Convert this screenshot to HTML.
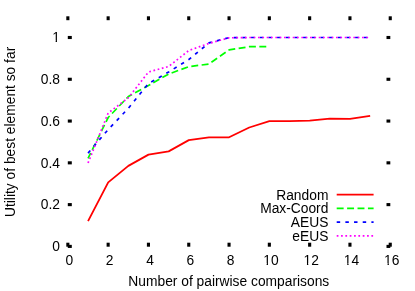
<!DOCTYPE html>
<html><head><meta charset="utf-8"><style>
html,body{margin:0;padding:0;background:#fff;}
svg{display:block;will-change:transform}
text{font-family:"Liberation Sans",sans-serif;font-size:13.8px;fill:#000}
</style></head><body>
<svg width="415" height="291" viewBox="0 0 415 291">
<rect width="415" height="291" fill="#fff"/>
<g fill="#000">
<rect x="66.30" y="16.3" width="3.1" height="3.9"/>
<rect x="66.30" y="242.7" width="3.1" height="4.0"/>
<rect x="106.60" y="16.3" width="3.1" height="3.9"/>
<rect x="106.60" y="242.7" width="3.1" height="4.0"/>
<rect x="146.90" y="16.3" width="3.1" height="3.9"/>
<rect x="146.90" y="242.7" width="3.1" height="4.0"/>
<rect x="187.20" y="16.3" width="3.1" height="3.9"/>
<rect x="187.20" y="242.7" width="3.1" height="4.0"/>
<rect x="227.50" y="16.3" width="3.1" height="3.9"/>
<rect x="227.50" y="242.7" width="3.1" height="4.0"/>
<rect x="267.80" y="16.3" width="3.1" height="3.9"/>
<rect x="267.80" y="242.7" width="3.1" height="4.0"/>
<rect x="308.10" y="16.3" width="3.1" height="3.9"/>
<rect x="308.10" y="242.7" width="3.1" height="4.0"/>
<rect x="348.40" y="16.3" width="3.1" height="3.9"/>
<rect x="348.40" y="242.7" width="3.1" height="4.0"/>
<rect x="388.70" y="16.3" width="3.1" height="3.9"/>
<rect x="388.70" y="242.7" width="3.1" height="4.0"/>
<rect x="67.8" y="244.85" width="4.0" height="3.1"/>
<rect x="386.5" y="244.85" width="3.8" height="3.1"/>
<rect x="67.8" y="203.07" width="4.0" height="3.1"/>
<rect x="386.5" y="203.07" width="3.8" height="3.1"/>
<rect x="67.8" y="161.29" width="4.0" height="3.1"/>
<rect x="386.5" y="161.29" width="3.8" height="3.1"/>
<rect x="67.8" y="119.51" width="4.0" height="3.1"/>
<rect x="386.5" y="119.51" width="3.8" height="3.1"/>
<rect x="67.8" y="77.73" width="4.0" height="3.1"/>
<rect x="386.5" y="77.73" width="3.8" height="3.1"/>
<rect x="67.8" y="35.95" width="4.0" height="3.1"/>
<rect x="386.5" y="35.95" width="3.8" height="3.1"/>
</g>
<text x="69.40" y="264.8" text-anchor="middle">0</text>
<text x="109.70" y="264.8" text-anchor="middle">2</text>
<text x="150.00" y="264.8" text-anchor="middle">4</text>
<text x="190.30" y="264.8" text-anchor="middle">6</text>
<text x="230.60" y="264.8" text-anchor="middle">8</text>
<text x="270.90" y="264.8" text-anchor="middle">10</text>
<text x="311.20" y="264.8" text-anchor="middle">12</text>
<text x="351.50" y="264.8" text-anchor="middle">14</text>
<text x="391.80" y="264.8" text-anchor="middle">16</text>
<text x="59.9" y="251.10" text-anchor="end">0</text>
<text x="59.9" y="209.32" text-anchor="end">0.2</text>
<text x="59.9" y="167.54" text-anchor="end">0.4</text>
<text x="59.9" y="125.76" text-anchor="end">0.6</text>
<text x="59.9" y="83.98" text-anchor="end">0.8</text>
<text x="59.9" y="42.20" text-anchor="end">1</text>
<g fill="#fff">
<rect x="263.53" y="263.25" width="3.12" height="2.3"/>
<rect x="267.97" y="263.25" width="3.28" height="2.3"/>
<rect x="303.83" y="263.25" width="3.12" height="2.3"/>
<rect x="308.27" y="263.25" width="3.28" height="2.3"/>
<rect x="344.13" y="263.25" width="3.12" height="2.3"/>
<rect x="348.57" y="263.25" width="3.28" height="2.3"/>
<rect x="384.43" y="263.25" width="3.12" height="2.3"/>
<rect x="388.87" y="263.25" width="3.28" height="2.3"/>
<rect x="52.53" y="40.65" width="3.12" height="2.3"/>
<rect x="56.97" y="40.65" width="3.28" height="2.3"/>
</g>
<text x="228.8" y="286.2" text-anchor="middle">Number of pairwise comparisons</text>
<text transform="translate(15.0,131.9) rotate(-90)" text-anchor="middle">Utility of best element so far</text>
<text x="328.4" y="199.7" text-anchor="end">Random</text>
<text x="328.4" y="213.2" text-anchor="end">Max-Coord</text>
<text x="328.4" y="226.8" text-anchor="end">AEUS</text>
<text x="328.4" y="240.6" text-anchor="end">eEUS</text>
<g fill="none" stroke-width="1.7" stroke-linejoin="round">
<polyline stroke="#ff0000" stroke-width="1.8" points="88.05,221.10 108.20,182.40 128.35,165.90 148.50,154.60 168.65,151.40 188.80,140.10 208.95,137.30 229.10,137.30 249.25,127.50 269.40,121.20 289.55,121.10 309.70,120.60 329.85,118.60 350.00,118.80 370.15,115.80"/>
<polyline stroke="#00ff00" stroke-dashoffset="1" stroke-dasharray="6.94,3.47" points="88.05,158.30 108.20,117.50 128.35,96.50 148.50,85.50 168.65,74.00 188.80,66.70 208.95,64.00 229.10,49.90 249.25,46.70 269.40,46.60"/>
<polyline stroke="#0000ff" stroke-dasharray="3.47,5.2" points="88.05,153.10 108.20,129.50 128.35,108.30 148.50,83.50 168.65,72.00 188.80,59.50 208.95,42.90 229.10,37.60 249.25,37.50 269.40,37.50 289.55,37.50 309.70,37.50 329.85,37.50 350.00,37.50 370.15,37.50"/>
<polyline stroke="#ff00ff" stroke-dasharray="1.734,2.6" points="88.05,163.00 108.20,113.00 128.35,97.80 148.50,72.00 168.65,66.50 188.80,50.50 208.95,43.40 229.10,37.80 249.25,37.50 269.40,37.50 289.55,37.50 309.70,37.50 329.85,37.50 350.00,37.50 370.15,37.50"/>
<line stroke="#ff0000" x1="336.7" x2="373.6" y1="194.6" y2="194.6"/>
<line stroke="#00ff00" stroke-dasharray="6.94,3.47" x1="336.7" x2="373.6" y1="208.3" y2="208.3"/>
<line stroke="#0000ff" stroke-dasharray="3.47,5.2" x1="336.7" x2="373.6" y1="222.1" y2="222.1"/>
<line stroke="#ff00ff" stroke-dasharray="1.734,2.6" x1="336.7" x2="373.6" y1="235.9" y2="235.9"/>
</g>
</svg>
</body></html>
